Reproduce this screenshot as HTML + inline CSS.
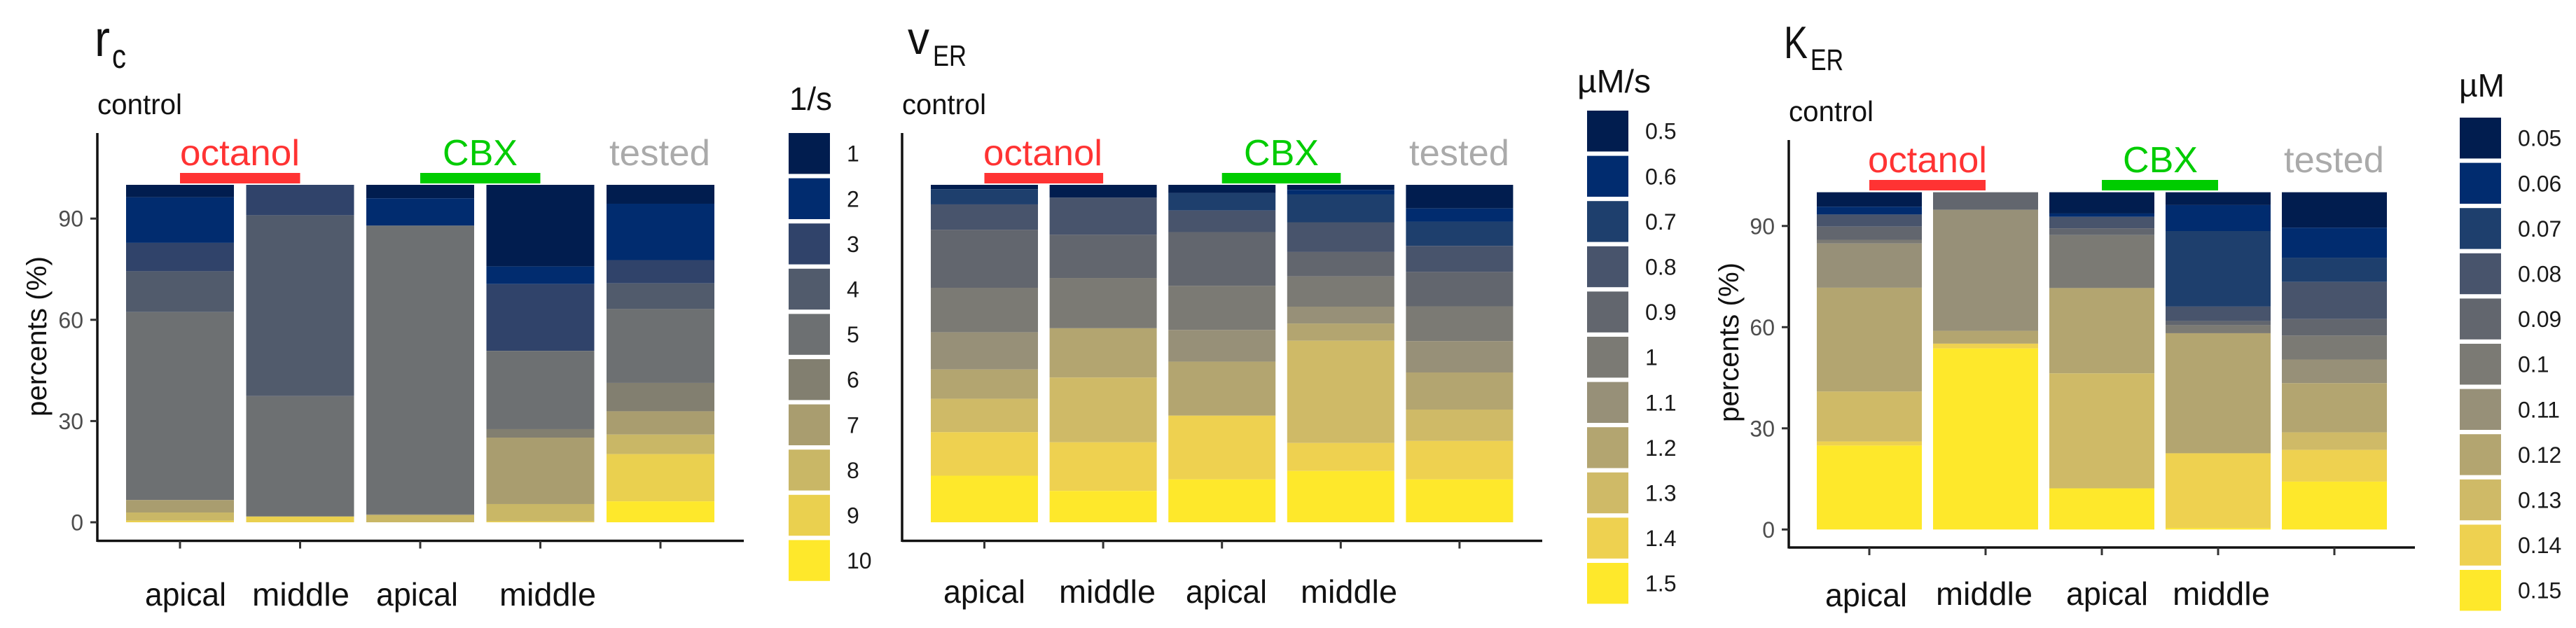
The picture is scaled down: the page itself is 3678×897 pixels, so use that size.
<!DOCTYPE html>
<html lang="en">
<head>
<meta charset="utf-8">
<title>Parameter distributions</title>
<style>
  html, body { margin: 0; padding: 0; background: #fff; }
  svg { display: block; font-family: "Liberation Sans", sans-serif; }
</style>
</head>
<body>
<svg id="figure" xmlns="http://www.w3.org/2000/svg" width="3678" height="897" viewBox="0 0 3678 897">
  <rect x="0" y="0" width="3678" height="897" fill="#fff"/>
  <g id="rc-panel"></g>
  <g id="ver-panel"></g>
  <g id="ker-panel"></g>

  <g fill="#111">
    <text x="135" y="80" font-size="72" textLength="22" lengthAdjust="spacingAndGlyphs">r</text>
    <text x="160" y="97" font-size="48" textLength="20" lengthAdjust="spacingAndGlyphs">c</text>
    <text x="1296" y="77" font-size="66" textLength="31" lengthAdjust="spacingAndGlyphs">v</text>
    <text x="1332" y="94" font-size="42" textLength="48" lengthAdjust="spacingAndGlyphs">ER</text>
    <text x="2547" y="83" font-size="65" textLength="34" lengthAdjust="spacingAndGlyphs">K</text>
    <text x="2585" y="100" font-size="43" textLength="47" lengthAdjust="spacingAndGlyphs">ER</text>
  </g>

  <g fill="#111" font-size="41">
    <text x="139" y="163" textLength="121" lengthAdjust="spacingAndGlyphs">control</text>
    <text x="1288" y="163" textLength="120" lengthAdjust="spacingAndGlyphs">control</text>
    <text x="2554" y="173" textLength="121" lengthAdjust="spacingAndGlyphs">control</text>
  </g>

  <g font-size="52">
    <text x="257" y="236" fill="#ff3333" textLength="171" lengthAdjust="spacingAndGlyphs">octanol</text>
    <text x="632" y="236" fill="#00cc00" textLength="107" lengthAdjust="spacingAndGlyphs">CBX</text>
    <text x="870" y="236" fill="#aaaaaa" textLength="144" lengthAdjust="spacingAndGlyphs">tested</text>
    <text x="1404" y="236" fill="#ff3333" textLength="170" lengthAdjust="spacingAndGlyphs">octanol</text>
    <text x="1776" y="236" fill="#00cc00" textLength="107" lengthAdjust="spacingAndGlyphs">CBX</text>
    <text x="2012" y="236" fill="#aaaaaa" textLength="143" lengthAdjust="spacingAndGlyphs">tested</text>
    <text x="2667" y="246" fill="#ff3333" textLength="170" lengthAdjust="spacingAndGlyphs">octanol</text>
    <text x="3031" y="246" fill="#00cc00" textLength="107" lengthAdjust="spacingAndGlyphs">CBX</text>
    <text x="3261" y="246" fill="#aaaaaa" textLength="143" lengthAdjust="spacingAndGlyphs">tested</text>
  </g>

  <g fill="#111" font-size="46">
    <text x="207" y="865" textLength="116" lengthAdjust="spacingAndGlyphs">apical</text>
    <text x="360" y="865" textLength="139" lengthAdjust="spacingAndGlyphs">middle</text>
    <text x="537" y="865" textLength="117" lengthAdjust="spacingAndGlyphs">apical</text>
    <text x="713" y="865" textLength="138" lengthAdjust="spacingAndGlyphs">middle</text>
    <text x="1347" y="861" textLength="117" lengthAdjust="spacingAndGlyphs">apical</text>
    <text x="1512" y="861" textLength="138" lengthAdjust="spacingAndGlyphs">middle</text>
    <text x="1693" y="861" textLength="116" lengthAdjust="spacingAndGlyphs">apical</text>
    <text x="1857" y="861" textLength="138" lengthAdjust="spacingAndGlyphs">middle</text>
    <text x="2606" y="866" textLength="117" lengthAdjust="spacingAndGlyphs">apical</text>
    <text x="2764" y="864" textLength="138" lengthAdjust="spacingAndGlyphs">middle</text>
    <text x="2950" y="864" textLength="117" lengthAdjust="spacingAndGlyphs">apical</text>
    <text x="3102" y="864" textLength="139" lengthAdjust="spacingAndGlyphs">middle</text>
  </g>

  <g fill="#111" font-size="40">
    <text transform="translate(66 595) rotate(-90)" textLength="229" lengthAdjust="spacingAndGlyphs">percents (%)</text>
    <text transform="translate(2482 603) rotate(-90)" textLength="228" lengthAdjust="spacingAndGlyphs">percents (%)</text>
  </g>

  <g fill="#111" font-size="46">
    <text x="1127" y="157" textLength="61" lengthAdjust="spacingAndGlyphs">1/s</text>
    <text x="2252" y="132" textLength="105" lengthAdjust="spacingAndGlyphs">µM/s</text>
    <text x="3511" y="138" textLength="65" lengthAdjust="spacingAndGlyphs">µM</text>
  </g>
</svg>

<script>
// Colour ramps (top level of legend first)
const rampTen = ['#011d4f','#012c6f','#30436a','#515b6c','#6d7072','#827f70','#a99d6f','#c9b766','#ead04f','#fee82b'];
const rampEleven = ['#011d4f','#012c6f','#1e3f6d','#48546c','#62666e','#7b7a74','#979078','#b3a570','#cfba67','#eed150','#fee82b'];

const yTickValues = [0, 30, 60, 90];

// Legend levels
const rcLevels = ['1','2','3','4','5','6','7','8','9','10'];
const verLevels = ['0.5','0.6','0.7','0.8','0.9','1','1.1','1.2','1.3','1.4','1.5'];
const kerLevels = ['0.05','0.06','0.07','0.08','0.09','0.1','0.11','0.12','0.13','0.14','0.15'];

// Percent of each level per bar, listed in legend order
const rcApicalOctanol = [3.7, 13.5, 8.4, 12.1, 55.7, 0, 3.7, 2.4, 0.5, 0];
const rcMiddleOctanol = [0, 0, 9.0, 53.6, 35.7, 0, 0, 0, 1.7, 0];
const rcApicalCbx = [4.0, 8.1, 0, 0, 85.6, 0, 0.2, 2.1, 0, 0];
const rcMiddleCbx = [24.2, 5.2, 19.8, 0, 23.2, 2.5, 19.7, 5.1, 0.3, 0];
const rcTested = [5.6, 16.7, 6.9, 7.6, 21.9, 8.4, 6.9, 5.8, 14.0, 6.2];

const verApicalOctanol = [1.3, 0, 4.5, 7.5, 17.2, 13.2, 11.0, 8.7, 9.9, 12.9, 13.8];
const verMiddleOctanol = [3.8, 0, 0, 11.0, 12.8, 14.9, 0, 14.6, 19.2, 14.4, 9.3];
const verApicalCbx = [2.4, 0, 5.2, 6.4, 15.9, 13.1, 9.4, 16.0, 0, 18.9, 12.7];
const verMiddleCbx = [1.5, 1.3, 8.3, 8.8, 7.2, 9.0, 5.0, 5.1, 30.3, 8.3, 15.2];
const verTested = [7.0, 3.9, 7.2, 7.7, 10.2, 10.3, 9.3, 11.0, 9.3, 11.4, 12.7];

const kerApicalOctanol = [4.3, 2.3, 0, 3.6, 3.9, 1.1, 13.1, 30.8, 14.8, 1.2, 24.9];
const kerMiddleOctanol = [0, 0, 0, 0, 5.2, 0, 35.9, 3.8, 0, 1.4, 53.7];
const kerApicalCbx = [6.3, 1.0, 0, 3.4, 2.0, 15.7, 0, 25.3, 34.1, 0, 12.2];
const kerMiddleCbx = [3.8, 7.7, 22.4, 4.3, 1.2, 2.4, 0, 35.6, 0, 22.2, 0.4];
const kerTested = [10.5, 8.9, 7.2, 11.0, 4.9, 7.1, 7.0, 14.6, 5.2, 9.4, 14.2];

const SVG_NS = 'http://www.w3.org/2000/svg';

function makeNode(tag, parent) {
  const node = document.createElementNS(SVG_NS, tag);
  parent.appendChild(node);
  return node;
}

function setAttrs(node, attrs) {
  for (const key in attrs) node.setAttribute(key, attrs[key]);
}

function drawPanel(prefix, bars, ramp, levels, geom) {
  const root = document.getElementById(prefix + '-panel');
  const yScale = function (p) { return geom.y0 - p * geom.yUnit; };
  const xCenter = function (i) { return geom.firstCenter + i * geom.step; };

  // stacked bars
  bars.forEach(function (values, barIndex) {
    const total = values.reduce(function (a, b) { return a + b; }, 0);
    let above = 0;
    values.forEach(function (value, levelIndex) {
      if (value <= 0) return;
      const top = yScale(total - above);
      const bottom = yScale(total - above - value);
      const seg = makeNode('rect', root);
      setAttrs(seg, {
        x: xCenter(barIndex) - geom.barWidth / 2,
        y: top,
        width: geom.barWidth,
        height: bottom - top,
        fill: ramp[levelIndex]
      });
      
      
      above += value;
    });
  });

  // treatment brackets span bars 1-2 and 3-4
  [[0, 1, '#ff3333', 'octanol'], [2, 3, '#00cc00', 'cbx']].forEach(function (b) {
    const bracket = makeNode('rect', root);
    setAttrs(bracket, {
      x: xCenter(b[0]),
      y: geom.bracketY,
      width: xCenter(b[1]) - xCenter(b[0]),
      height: 15,
      fill: b[2]
    });
    
    
  });

  // axes
  const yAxis = makeNode('line', root);
  setAttrs(yAxis, { x1: geom.axisX, x2: geom.axisX, y1: geom.axisTop, y2: geom.axisY + 1.5, stroke: '#111', 'stroke-width': 3.5 });
  
  

  const xAxis = makeNode('line', root);
  setAttrs(xAxis, { x1: geom.axisX, x2: geom.axisRight, y1: geom.axisY, y2: geom.axisY, stroke: '#111', 'stroke-width': 3.5 });
  
  

  bars.forEach(function (values, barIndex) {
    const tick = makeNode('line', root);
    setAttrs(tick, { x1: xCenter(barIndex), x2: xCenter(barIndex), y1: geom.axisY, y2: geom.axisY + 11, stroke: '#333', 'stroke-width': 3 });
    
    
  });

  if (geom.showYTicks) {
    yTickValues.forEach(function (value) {
      const tick = makeNode('line', root);
      setAttrs(tick, { x1: geom.axisX - 10, x2: geom.axisX, y1: yScale(value), y2: yScale(value), stroke: '#333', 'stroke-width': 3 });
      
      

      const label = makeNode('text', root);
      setAttrs(label, { x: geom.axisX - 20, y: yScale(value) + 11.5, 'text-anchor': 'end', 'font-size': 32, fill: '#4d4d4d' });
      label.textContent = String(value);
      
      
    });
  }

  // legend
  levels.forEach(function (level, i) {
    const top = geom.legendTop + i * geom.legendStep;
    const swatch = makeNode('rect', root);
    setAttrs(swatch, { x: geom.legendX, y: top, width: 59, height: 58.4, fill: ramp[i] });
    
    

    const label = makeNode('text', root);
    setAttrs(label, { x: geom.legendTextX, y: top + 29.2 + 11.5, 'font-size': 32, fill: '#1a1a1a' });
    label.textContent = level;
    
    
  });
}

drawPanel('rc',
  [rcApicalOctanol, rcMiddleOctanol, rcApicalCbx, rcMiddleCbx, rcTested],
  rampTen, rcLevels,
  { y0: 746, yUnit: 4.82, firstCenter: 257, step: 171.5, barWidth: 154, bracketY: 247,
    axisX: 139, axisTop: 190, axisY: 772.5, axisRight: 1062, showYTicks: true,
    legendX: 1126, legendTextX: 1209, legendTop: 190, legendStep: 64.6 });

drawPanel('ver',
  [verApicalOctanol, verMiddleOctanol, verApicalCbx, verMiddleCbx, verTested],
  rampEleven, verLevels,
  { y0: 746, yUnit: 4.82, firstCenter: 1405.5, step: 169.6, barWidth: 153, bracketY: 247,
    axisX: 1288, axisTop: 190, axisY: 772.5, axisRight: 2202, showYTicks: false,
    legendX: 2266, legendTextX: 2349, legendTop: 158, legendStep: 64.6 });

drawPanel('ker',
  [kerApicalOctanol, kerMiddleOctanol, kerApicalCbx, kerMiddleCbx, kerTested],
  rampEleven, kerLevels,
  { y0: 756.3, yUnit: 4.817, firstCenter: 2669, step: 166, barWidth: 150, bracketY: 257,
    axisX: 2554, axisTop: 200, axisY: 782, axisRight: 3448, showYTicks: true,
    legendX: 3512, legendTextX: 3595, legendTop: 168, legendStep: 64.6 });
</script>
</body>
</html>
